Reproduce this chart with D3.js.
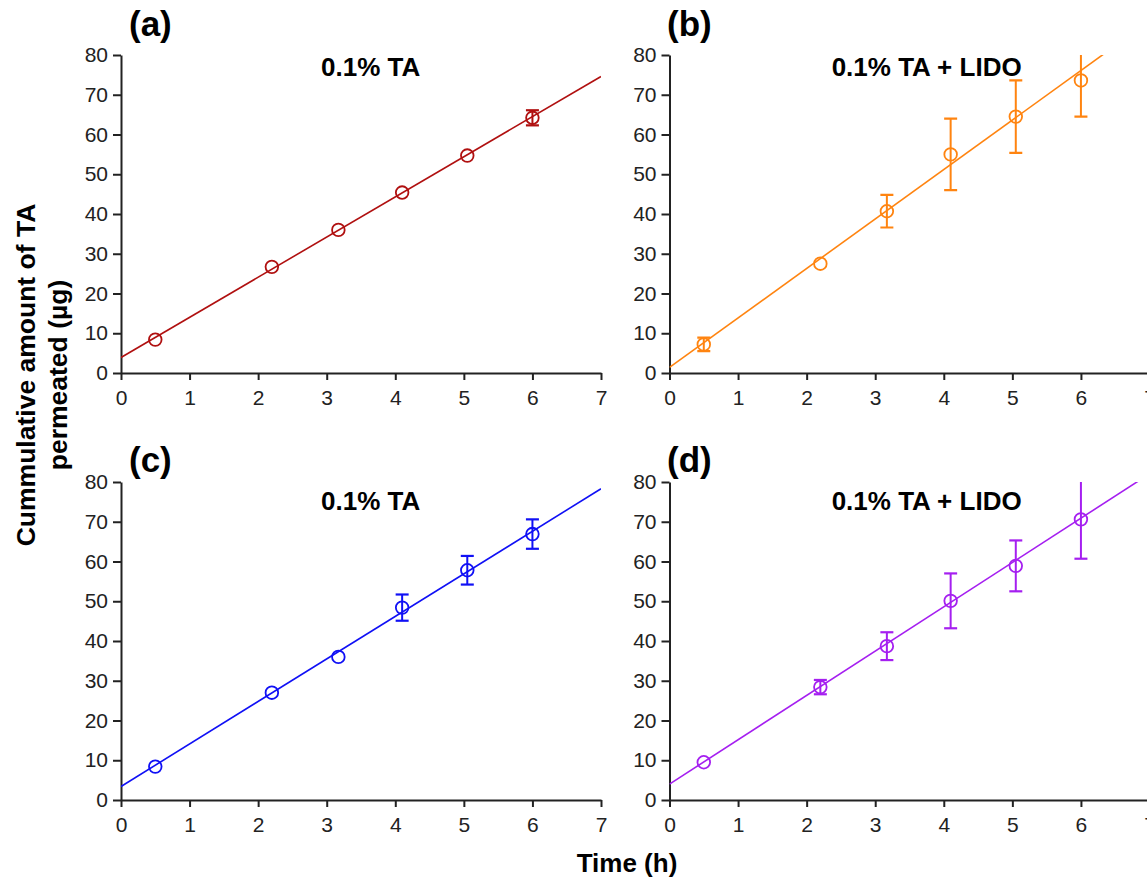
<!DOCTYPE html>
<html>
<head>
<meta charset="utf-8">
<script src="https://cdn.jsdelivr.net/npm/d3@7"></script>
<style>
	body { margin: 0; background: #fff; }
	svg { display: block; font-family: "Liberation Sans", Arial, sans-serif; }
	.axis path, .axis line { stroke: #222; stroke-width: 2; }
	.axis text { fill: #222; font-size: 21px; }
</style>
</head>
<body>
<svg id="chart" width="1147" height="879"></svg>
<script>
// sampling times (h), shared by all panels
var timePoints = [0.5, 2.2, 3.17, 4.1, 5.05, 6.0];

var panelLetters = ["(a)", "(b)", "(c)", "(d)"];
var panelTitles = ["0.1% TA", "0.1% TA + LIDO", "0.1% TA", "0.1% TA + LIDO"];
var panelColors = ["#b01010", "#ff8410", "#1010f5", "#a51ff0"];

// cumulative amount permeated (µg) and error (±)
var meansA = [8.4, 26.7, 36.0, 45.4, 54.7, 64.2];
var errA   = [0, 0, 0, 0, 0, 1.9];
var meansB = [7.2, 27.5, 40.7, 55.0, 64.5, 73.6];
var errB   = [1.7, 0, 4.1, 9.0, 9.1, 9.1];
var meansC = [8.4, 27.0, 36.0, 48.4, 57.8, 66.9];
var errC   = [0, 0, 0, 3.3, 3.6, 3.7];
var meansD = [9.5, 28.4, 38.7, 50.1, 58.9, 70.6];
var errD   = [0, 1.8, 3.5, 6.9, 6.4, 9.9];

// linear fits: y = intercept + slope * t
var fitIntercepts = [3.9, 1.4, 3.4, 4.0];
var fitSlopes = [10.1, 12.45, 10.7, 11.15];

var xTicks = [0, 1, 2, 3, 4, 5, 6, 7];
var yTicks = [0, 10, 20, 30, 40, 50, 60, 70, 80];

var panelMeans = [meansA, meansB, meansC, meansD];
var panelErrs = [errA, errB, errC, errD];

var svg = d3.select("#chart");
var width = 480, height = 318;
var origins = [[121, 55], [669.5, 55], [121, 482], [669.5, 482]];
var letterX = [129, 667, 129, 667];
var letterY = [36, 36, 472, 472];
var titleX = [3.64, 3.75, 3.64, 3.75];
var titleDy = [21, 21, 28, 28];

var x = d3.scaleLinear().domain([0, 7]).range([0, width]);
var y = d3.scaleLinear().domain([0, 80]).range([height, 0]);

panelMeans.forEach(function(means, i){
	var color = panelColors[i];
	var g = svg.append("g")
		.attr("transform", "translate(" + origins[i][0] + "," + origins[i][1] + ")");

	g.append("clipPath").attr("id", "clip" + i)
		.append("rect").attr("x", 0).attr("y", 0).attr("width", width).attr("height", height);

	g.append("g")
		.attr("class", "x axis")
		.attr("transform", "translate(0," + height + ")")
		.call(d3.axisBottom(x).tickValues(xTicks).tickFormat(d3.format("d"))
			.tickSize(7).tickSizeOuter(0).tickPadding(10));

	g.append("g")
		.attr("class", "y axis")
		.call(d3.axisLeft(y).tickValues(yTicks).tickFormat(d3.format("d"))
			.tickSize(8).tickSizeOuter(0).tickPadding(5));

	var plot = g.append("g").attr("clip-path", "url(#clip" + i + ")");

	plot.append("line")
		.attr("x1", x(0)).attr("y1", y(fitIntercepts[i]))
		.attr("x2", x(7)).attr("y2", y(fitIntercepts[i] + fitSlopes[i] * 7))
		.style("stroke", color).style("stroke-width", 1.6);

	var rows = timePoints.map(function(t, k){
		return { t: t, v: means[k], e: panelErrs[i][k] };
	}).filter(function(d){ return d.e > 0; });

	plot.selectAll(".err")
		.data(rows).enter().append("line")
		.attr("x1", function(d){ return x(d.t); })
		.attr("x2", function(d){ return x(d.t); })
		.attr("y1", function(d){ return y(d.v - d.e); })
		.attr("y2", function(d){ return y(d.v + d.e); })
		.style("stroke", color).style("stroke-width", 2);

	["cap-lo", "cap-hi"].forEach(function(cls, side){
		plot.selectAll("." + cls)
			.data(rows).enter().append("line")
			.attr("x1", function(d){ return x(d.t) - 6.5; })
			.attr("x2", function(d){ return x(d.t) + 6.5; })
			.attr("y1", function(d){ return y(side ? d.v + d.e : d.v - d.e); })
			.attr("y2", function(d){ return y(side ? d.v + d.e : d.v - d.e); })
			.style("stroke", color).style("stroke-width", 2.2);
	});

	g.selectAll(".dot")
		.data(means).enter().append("circle")
		.attr("cx", function(d, k){ return x(timePoints[k]); })
		.attr("cy", function(d){ return y(d); })
		.attr("r", 6.3)
		.style("fill", "none")
		.style("stroke", color).style("stroke-width", 1.8);

	g.append("text")
		.attr("x", x(titleX[i]))
		.attr("y", titleDy[i])
		.attr("text-anchor", "middle")
		.style("font-size", "26px").style("font-weight", "bold")
		.text(panelTitles[i]);

	svg.append("text")
		.attr("x", letterX[i]).attr("y", letterY[i])
		.style("font-size", "35px").style("font-weight", "bold")
		.text(panelLetters[i]);
});

var yLabel = svg.append("text")
	.attr("transform", "translate(0,375) rotate(-90)")
	.attr("text-anchor", "middle")
	.style("font-size", "26.5px").style("font-weight", "bold");
yLabel.append("tspan").attr("x", 0).attr("y", 35).text("Cummulative amount of TA");
yLabel.append("tspan").attr("x", 0).attr("y", 67).text("permeated (µg)");

svg.append("text")
	.attr("x", 627).attr("y", 872)
	.attr("text-anchor", "middle")
	.style("font-size", "26px").style("font-weight", "bold")
	.text("Time (h)");
</script>
</body>
</html>
